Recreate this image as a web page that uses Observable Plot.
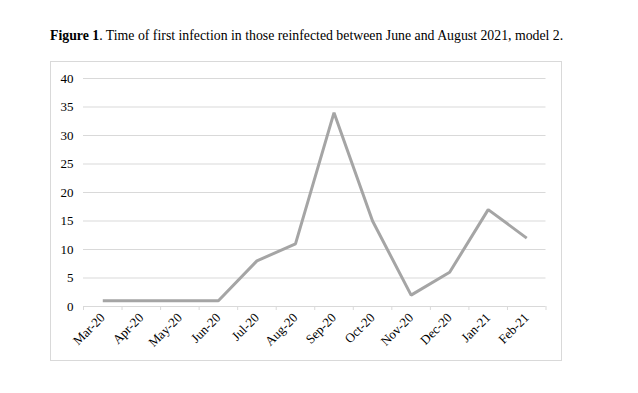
<!DOCTYPE html>
<html>
<head>
<meta charset="utf-8">
<script src="https://cdn.jsdelivr.net/npm/d3@7"></script>
<script src="https://cdn.jsdelivr.net/npm/@observablehq/plot@0.6"></script>
<style>
  html, body { margin: 0; padding: 0; background: #fff; }
  body { width: 638px; height: 393px; position: relative; overflow: hidden; font-family: "Liberation Serif", serif; }
  #title { position: absolute; left: 50px; top: 28px; font-size: 13.8px; color: #000; white-space: nowrap; font-family: "Liberation Serif", serif; }
  #box { position: absolute; left: 50px; top: 61px; width: 510px; height: 298px; border: 1px solid #d9d9d9; }
  #chart { position: absolute; left: 0; top: 0; }
  #chart svg, #chart svg text { font-family: "Liberation Serif", serif !important; }
</style>
</head>
<body>
<div id="title"><b>Figure 1</b>. Time of first infection in those reinfected between June and August 2021, model 2.</div>
<div id="box"></div>
<div id="chart"></div>
<script>
const months = ["Mar-20","Apr-20","May-20","Jun-20","Jul-20","Aug-20","Sep-20","Oct-20","Nov-20","Dec-20","Jan-21","Feb-21"];
const counts = [1, 1, 1, 1, 8, 11, 34, 15, 2, 6, 17, 12];
const yTicks = [0, 5, 10, 15, 20, 25, 30, 35, 40];

const data = months.map((m, i) => ({i, month: m, value: counts[i]}));
const boundaries = d3.range(months.length + 1).map(k => k - 0.5);

const chart = Plot.plot({
  width: 638,
  height: 393,
  marginLeft: 83,
  marginRight: 92.5,
  marginTop: 78,
  marginBottom: 87,
  style: {fontFamily: "Liberation Serif, serif", fontSize: "13px", color: "#000", background: "transparent"},
  x: {type: "linear", domain: [-0.5, months.length - 0.5]},
  y: {domain: [0, 40]},
  marks: [
    Plot.ruleY(yTicks.filter(v => v > 0), {stroke: "#d9d9d9", strokeWidth: 1, strokeOpacity: 1}),
    Plot.ruleY([0], {stroke: "#d9d9d9", strokeWidth: 1, strokeOpacity: 1}),
    Plot.axisY({ticks: yTicks, tickSize: 0, tickPadding: 10, label: null, fontSize: 13}),
    Plot.axisX({ticks: boundaries, tickSize: 4, tickFormat: () => "", stroke: "#d9d9d9", label: null}),
    Plot.axisX({ticks: d3.range(months.length), tickSize: 0, tickPadding: 9, tickRotate: -45, tickFormat: i => months[i], label: null, fontSize: 13}),
    Plot.line(data, {x: "i", y: "value", stroke: "#a5a5a5", strokeWidth: 3, strokeLinejoin: "miter", strokeLinecap: "butt"})
  ]
});
document.getElementById("chart").appendChild(chart);
</script>
</body>
</html>
